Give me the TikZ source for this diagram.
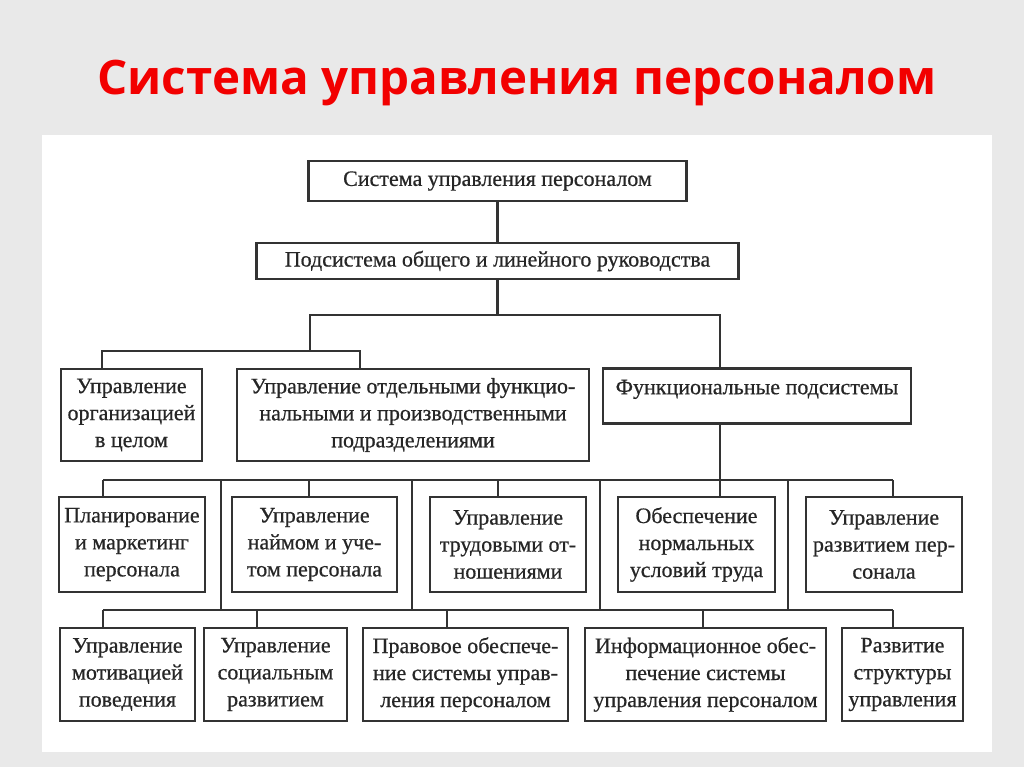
\documentclass[tikz,border=0pt]{standalone}
\usepackage{fontspec}
\setmainfont{Liberation Serif}
\newfontfamily\boxfont{Liberation Serif}[FakeBold=0.6]
\newfontfamily\headfont{Open Sans}
\usepackage{tikz}
\definecolor{bggray}{HTML}{E9E9E9}
\definecolor{headred}{HTML}{F20000}
\definecolor{ink}{HTML}{333333}
\definecolor{txt}{HTML}{262626}

\begin{document}
\begin{tikzpicture}[x=1pt,y=-1pt,
   box/.style={draw=ink,line width=2.3pt,align=center,inner sep=0pt,text=txt,
      font=\boxfont\fontsize{22}{27}\selectfont},
   link/.style={draw=ink,line width=2.1pt}]
   \useasboundingbox (0,0) rectangle (1024,767);
   \fill[bggray] (0,0) rectangle (1024,767);
   \fill[white] (42,135) rectangle (992,752);

   \node[anchor=base,text=headred,font=\headfont\bfseries\fontsize{47.5}{52}\selectfont] (title) at (517,95) {Система управления персоналом};

   \node[box,minimum width=378pt,minimum height=40pt] (a) at (497.5,181) {Система управления персоналом};
   \node[box,minimum width=482pt,minimum height=36pt] (b) at (497.5,261) {Подсистема общего и линейного руководства};

   \node[box,minimum width=141pt,minimum height=92pt] (c) at (131.5,415) {Управление\\организацией\\в целом};
   \node[box,minimum width=352pt,minimum height=92pt] (d) at (413,415) {Управление отдельными функцио-\\нальными и производственными\\подразделениями};
   \node[box,minimum width=308pt,minimum height=55pt,text depth=18pt] (e) at (757,396) {Функциональные подсистемы};

   \node[box,minimum width=146pt,minimum height=95pt] (f) at (132,544.5) {Планирование\\и маркетинг\\персонала};
   \node[box,minimum width=165pt,minimum height=95pt] (g) at (314.5,544.5) {Управление\\наймом и уче-\\том персонала};
   \node[box,minimum width=156pt,minimum height=95pt] (h) at (508,544.5) {Управление\\трудовыми от-\\ношениями};
   \node[box,minimum width=157pt,minimum height=95pt] (i) at (696.5,544.5) {Обеспечение\\нормальных\\условий труда};
   \node[box,minimum width=156pt,minimum height=95pt] (j) at (884,544.5) {Управление\\развитием пер-\\сонала};

   \node[box,minimum width=135pt,minimum height=93pt] (k) at (127.5,674.5) {Управление\\мотивацией\\поведения};
   \node[box,minimum width=143pt,minimum height=93pt] (l) at (275.5,674.5) {Управление\\социальным\\развитием};
   \node[box,minimum width=205pt,minimum height=93pt] (m) at (465.5,674.5) {Правовое обеспече-\\ние системы управ-\\ления персоналом};
   \node[box,minimum width=241pt,minimum height=93pt] (n) at (705.5,674.5) {Информационное обес-\\печение системы\\управления персоналом};
   \node[box,minimum width=121pt,minimum height=93pt] (o) at (902.5,674.5) {Развитие\\структуры\\управления};

   \coordinate (p) at (310,315);
   \coordinate (q) at (720,315);
   \coordinate (r) at (102,351);
   \coordinate (s) at (360,351);

   \coordinate (t1) at (103,480);
   \coordinate (t2) at (221,480);
   \coordinate (t3) at (309,480);
   \coordinate (t4) at (412,480);
   \coordinate (t5) at (498,480);
   \coordinate (t6) at (600,480);
   \coordinate (t7) at (788,480);
   \coordinate (t8) at (893,480);

   \coordinate (u1) at (103,610);
   \coordinate (u2) at (257,610);
   \coordinate (u3) at (447,610);
   \coordinate (u4) at (703,610);
   \coordinate (u5) at (893,610);

   \draw [link] (a) -- (b) ;
   \draw [link] (b) -- (b |- p) ;
   \draw [link] (p |- r) -- (p) -- (q) -- (q |- e.north) ;
   \draw [link] (r |- c.north) -- (r) -- (s) -- (s |- d.north) ;

   \draw [link] (q |- e.south) -- (q |- i.north) ;
   \draw [link] (t1) -- (t8) ;
   \draw [link] (t1) -- (t1 |- f.north) ;
   \draw [link] (t3) -- (t3 |- g.north) ;
   \draw [link] (t5) -- (t5 |- h.north) ;
   \draw [link] (t8) -- (t8 |- j.north) ;

   \draw [link] (t2) -- (t2 |- u1) ;
   \draw [link] (t4) -- (t4 |- u1) ;
   \draw [link] (t6) -- (t6 |- u1) ;
   \draw [link] (t7) -- (t7 |- u1) ;

   \draw [link] (u1) -- (u5) ;
   \draw [link] (u1) -- (u1 |- k.north) ;
   \draw [link] (u2) -- (u2 |- l.north) ;
   \draw [link] (u3) -- (u3 |- m.north) ;
   \draw [link] (u4) -- (u4 |- n.north) ;
   \draw [link] (u5) -- (u5 |- o.north) ;
\end{tikzpicture}
\end{document}
